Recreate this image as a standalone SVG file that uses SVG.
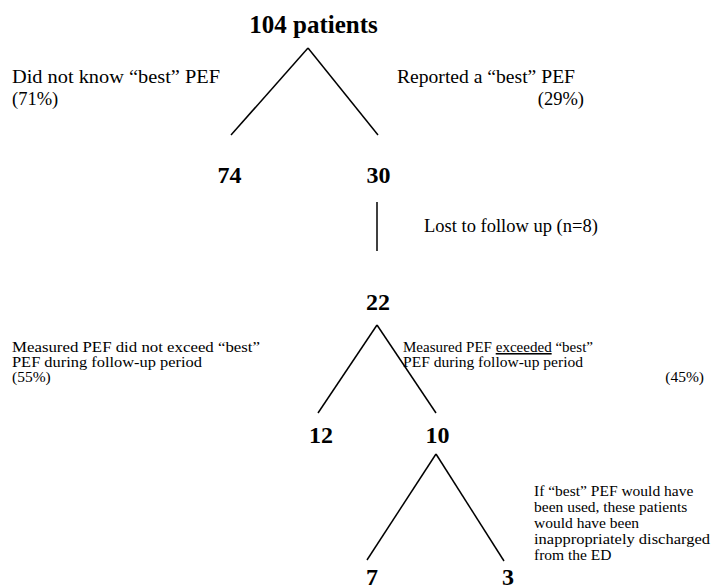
<svg xmlns="http://www.w3.org/2000/svg" width="712" height="585" viewBox="0 0 712 585">
<style>
text{font-family:"Liberation Serif","Times New Roman",serif;fill:#000}
.num{font-weight:bold;font-size:24px;text-anchor:middle}
.lbl{font-size:18.5px}
.sm{font-size:15.5px}
.c line{stroke:#000;stroke-width:1.5;fill:none}
</style>
<rect width="712" height="585" fill="#fff"/>
<g id="connectors" class="c">
<line x1="308" y1="48" x2="231" y2="135"/>
<line x1="308" y1="48" x2="378" y2="135"/>
<line x1="377" y1="202" x2="377" y2="251"/>
<line x1="377" y1="325" x2="318" y2="413"/>
<line x1="377" y1="325" x2="436" y2="413"/>
<line x1="436" y1="454" x2="367" y2="560"/>
<line x1="436" y1="454" x2="504" y2="561"/>
</g>
<g id="n104"><text class="num" x="313.5" y="33" style="font-size:25px">104 patients</text></g>
<g id="n74"><text class="num" x="229.5" y="183">74</text></g>
<g id="n30"><text class="num" x="378.5" y="183">30</text></g>
<g id="n22"><text class="num" x="378" y="310">22</text></g>
<g id="n12"><text class="num" x="321" y="443">12</text></g>
<g id="n10"><text class="num" x="437.5" y="443">10</text></g>
<g id="n7"><text class="num" x="372" y="585">7</text></g>
<g id="n3"><text class="num" x="508" y="585">3</text></g>
<g id="labels">
<text class="lbl" x="12" y="83" textLength="208" lengthAdjust="spacingAndGlyphs">Did not know “best” PEF</text>
<text class="lbl" x="12" y="105">(71%)</text>
<text class="lbl" x="397" y="83" textLength="178" lengthAdjust="spacingAndGlyphs">Reported a “best” PEF</text>
<text class="lbl" x="584" y="105" text-anchor="end">(29%)</text>
<text class="lbl" x="424" y="232">Lost to follow up (n=8)</text>
<text class="sm" x="12" y="352" textLength="248" lengthAdjust="spacingAndGlyphs">Measured PEF did not exceed “best”</text>
<text class="sm" x="12" y="367" textLength="190" lengthAdjust="spacingAndGlyphs">PEF during follow-up period</text>
<text class="sm" x="12" y="382">(55%)</text>
<text class="sm" x="403" y="352" textLength="190" lengthAdjust="spacingAndGlyphs">Measured PEF <tspan text-decoration="underline">exceeded</tspan> “best”</text>
<text class="sm" x="403" y="367" textLength="180" lengthAdjust="spacingAndGlyphs">PEF during follow-up period</text>
<text class="sm" x="704" y="382" text-anchor="end">(45%)</text>
<text class="sm" x="534" y="496">If “best” PEF would have</text>
<text class="sm" x="534" y="512">been used, these patients</text>
<text class="sm" x="534" y="528">would have been</text>
<text class="sm" x="534" y="544" textLength="176" lengthAdjust="spacingAndGlyphs">inappropriately discharged</text>
<text class="sm" x="534" y="560">from the ED</text>
</g>
</svg>
